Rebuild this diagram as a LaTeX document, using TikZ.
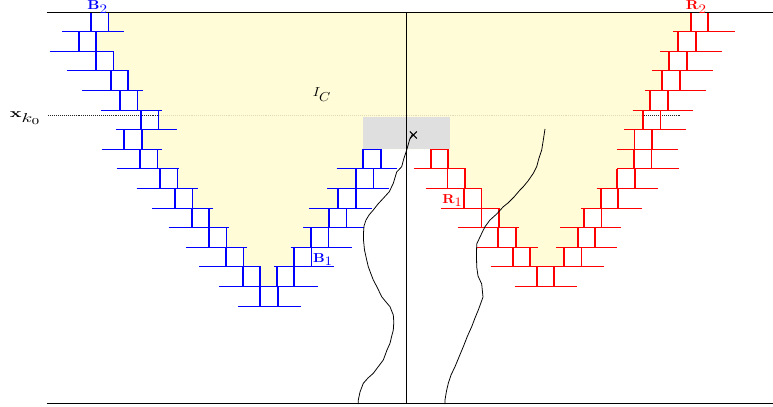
\documentclass[tikz,border=0pt]{standalone}
\begin{document}
\definecolor{yel}{RGB}{255,251,208}
\begin{tikzpicture}[x=0.77pt,y=-0.77pt,
  bcell/.style={draw=blue,line width=0.75pt},
  bvert/.style={draw=blue,line width=1.3pt},
  bhl/.style={draw=blue,line width=0.75pt},
  rcell/.style={draw=red,line width=0.75pt},
  rvert/.style={draw=red,line width=1.3pt},
  rhl/.style={draw=red,line width=0.75pt},
  frame/.style={draw=black,line width=1.1pt},
  walk/.style={draw=black,line width=0.6pt,line join=round},
  lab/.style={inner sep=1pt}]
\useasboundingbox (0,0) rectangle (773,407);
% dotted level line
\draw[black!85,line width=0.65pt,dash pattern=on 0.7pt off 0.8pt] (48.3,115.7) -- (680,115.7);
% yellow region
\fill[yel,fill opacity=0.85] (108.6,12) -- (690.7,12) -- (690.7,31.6) -- (678.3,31.6) -- (678.3,51.2) -- (669.3,51.2) -- (669.3,70.8) -- (662.3,70.8) -- (662.3,90.4) -- (650.3,90.4) -- (650.3,110) -- (643,110) -- (643,129.6) -- (634.5,129.6) -- (634.5,149.2) -- (634,149.2) -- (634,168.8) -- (617.3,168.8) -- (617.3,188.4) -- (600.7,188.4) -- (600.7,208) -- (584,208) -- (584,227.6) -- (577.7,227.6) -- (577.7,247.2) -- (564,247.2) -- (564,266.8) -- (530.3,266.8) -- (530.3,247.2) -- (515.9,247.2) -- (515.9,227.6) -- (499.1,227.6) -- (499.1,208) -- (481.6,208) -- (481.6,188.4) -- (465,188.4) -- (465,168.8) -- (448.3,168.8) -- (448.3,149.2) -- (363.3,149.2) -- (363.3,168.8) -- (356,168.8) -- (356,188.4) -- (338.3,188.4) -- (338.3,208) -- (329,208) -- (329,227.6) -- (311,227.6) -- (311,247.2) -- (294,247.2) -- (294,266.8) -- (276.7,266.8) -- (276.7,286.4) -- (260.3,286.4) -- (260.3,266.8) -- (243.6,266.8) -- (243.6,247.2) -- (226.6,247.2) -- (226.6,227.6) -- (209.3,227.6) -- (209.3,208) -- (192.6,208) -- (192.6,188.4) -- (177.6,188.4) -- (177.6,168.8) -- (157.6,168.8) -- (157.6,149.2) -- (141.9,149.2) -- (141.9,129.6) -- (158.6,129.6) -- (158.6,110) -- (137.6,110) -- (137.6,90.4) -- (128.3,90.4) -- (128.3,70.8) -- (113.6,70.8) -- (113.6,51.2) -- (96.3,51.2) -- (96.3,31.6) -- (108.6,31.6) -- cycle;
% gray box
\fill[gray!25] (362.7,117.3) rectangle (450,149.2);
% blue cells
\foreach \k/\xl in {1/91,2/78.7,3/96,4/110.7,5/120,6/141,7/124.3,8/140,9/160,10/175,11/191.7,12/209,13/226,14/242.7,15/260.3,8/363.3,9/356,10/338.3,11/329,12/311,13/294,14/276.7}
{
  \draw[bcell] (\xl,{12+19.6*(\k-1)}) rectangle ++(17.6,19.6);
  \draw[bvert] (\xl,{12+19.6*(\k-1)}) -- ++(0,19.6) ++(17.6,0) -- ++(0,-19.6);
}
% blue level lines
\foreach \k/\a/\b in {1/62/124,2/49.7/114,3/67/129,4/82/143,5/101/162,6/116/177,7/101.7/162.3,8/116.7/179,9/136.7/198.3,10/152.3/213.3,11/169/229.3,12/186/247.3,13/199.3/261,14/219.3/317.7,15/238.3/300.7,8/336.7/397.3,9/327.3/389.3,10/309.3/371.7,11/303.3/364,12/290.7/351.7,13/274.3/334.3}
{
  \draw[bhl] (\a,{12+19.6*\k}) -- (\b,{12+19.6*\k});
}
% red cells
\foreach \k/\xl in {1/690.7,2/678.3,3/669.3,4/662.3,5/650.3,6/643,7/634.5,8/634,9/617.3,10/600.7,11/584,12/577.7,13/564,14/536.7,8/430.7,9/447.4,10/464,11/481.5,12/498.3,13/512.7}
{
  \draw[rcell] (\xl,{12+19.6*(\k-1)}) rectangle ++(17.6,19.6);
  \draw[rvert] (\xl,{12+19.6*(\k-1)}) -- ++(0,19.6) ++(17.6,0) -- ++(0,-19.6);
}
% red level lines
\foreach \k/\a/\b in {1/673.3/735,2/660/721.7,3/651.7/712.7,4/645/705.7,5/632.7/693.3,6/624.3/686,7/617.3/677.7,8/617.3/679.3,9/596.7/658.3,10/580.7/641.7,11/560/621,12/556/617.3,13/490.7/604,14/515/576.7,8/414/466,9/426/481.7,10/440.7/500,11/458.3/519.3,12/476.7/537.7}
{
  \draw[rhl] (\a,{12+19.6*\k}) -- (\b,{12+19.6*\k});
}
% frame lines
\coordinate (tl) at (46.5,12.3);
\coordinate (tr) at (773,12.3);
\coordinate (bl) at (46.5,403.5);
\coordinate (br) at (773,403.5);
\coordinate (vt) at (406.7,12.3);
\coordinate (vb) at (406.7,403.5);
\draw[frame] (tl) -- (tr);
\draw[frame] (bl) -- (br);
\draw[black,line width=0.9pt] (vt) -- (vb);
% random walks
\draw[walk] (412.5,134) -- (409.5,140) -- (406.7,150) -- (404,158) -- (401.7,166.7) -- (396.7,172) -- (393.3,183.3) -- (389.3,191.7) -- (383.3,198.3) -- (378,204) -- (373.3,210) -- (369,215) -- (366,220) -- (364,226) -- (363.5,233) -- (363.5,240) -- (364.5,250) -- (366.7,260) -- (368.3,266.7) -- (371,274) -- (373.3,280) -- (377,287) -- (381.7,296.7) -- (386,302) -- (390,306.7) -- (393.3,315) -- (393.8,322) -- (393.3,330) -- (391.5,337) -- (390,343.3) -- (387,350) -- (383.3,360) -- (378,367) -- (373.3,373.3) -- (368,378) -- (363.3,383.3) -- (360,392) -- (358.3,400) -- (358.3,404);
\draw[walk] (545,129) -- (543.3,140) -- (541.7,150) -- (539,158) -- (536.7,166.7) -- (533.3,173.3) -- (528,181) -- (523.3,186.7) -- (520,190) -- (514,197) -- (508,203) -- (503.3,206.7) -- (496.7,214) -- (490,220) -- (485,226.7) -- (483.3,230) -- (480,237) -- (476.7,244) -- (476.5,255) -- (476.7,266.7) -- (478,276) -- (481.7,284) -- (482.5,292) -- (483,297) -- (480.5,304) -- (478.3,310) -- (475,318) -- (471.7,326.7) -- (467.5,336) -- (463.3,346.7) -- (459,357) -- (455,366.7) -- (451,375) -- (448.3,383.3) -- (446.5,391) -- (445,400) -- (445,404);
% cross mark
\draw[black,line width=0.8pt] (409.8,131.5) -- (416.8,138.5) (409.8,138.5) -- (416.8,131.5);
% labels
\node[lab,blue,anchor=base] (b2) at (97.7,9.5) {\scalebox{1.15}[1]{$\mathbf{B}_{\textstyle 2}$}};
\node[lab,red,anchor=base] (r2) at (696.3,9.5) {\scalebox{1.15}[1]{$\mathbf{R}_{\textstyle 2}$}};
\node[lab,blue,anchor=base] (b1) at (323,262) {\scalebox{1.1}[1]{$\mathbf{B}_{\textstyle 1}$}};
\node[lab,red,anchor=base] (r1) at (452.5,203) {\scalebox{1.1}[1]{$\mathbf{R}_{\textstyle 1}$}};
\node[lab,anchor=base] (ic) at (322,97) {\scalebox{1.1}[1]{$I_{\textstyle C}$}};
\node[lab,anchor=base east] (xk) at (43,118) {\scalebox{1.5}[1]{$\mathbf{x}_{\textstyle k_0}$}};
\end{tikzpicture}
\end{document}
